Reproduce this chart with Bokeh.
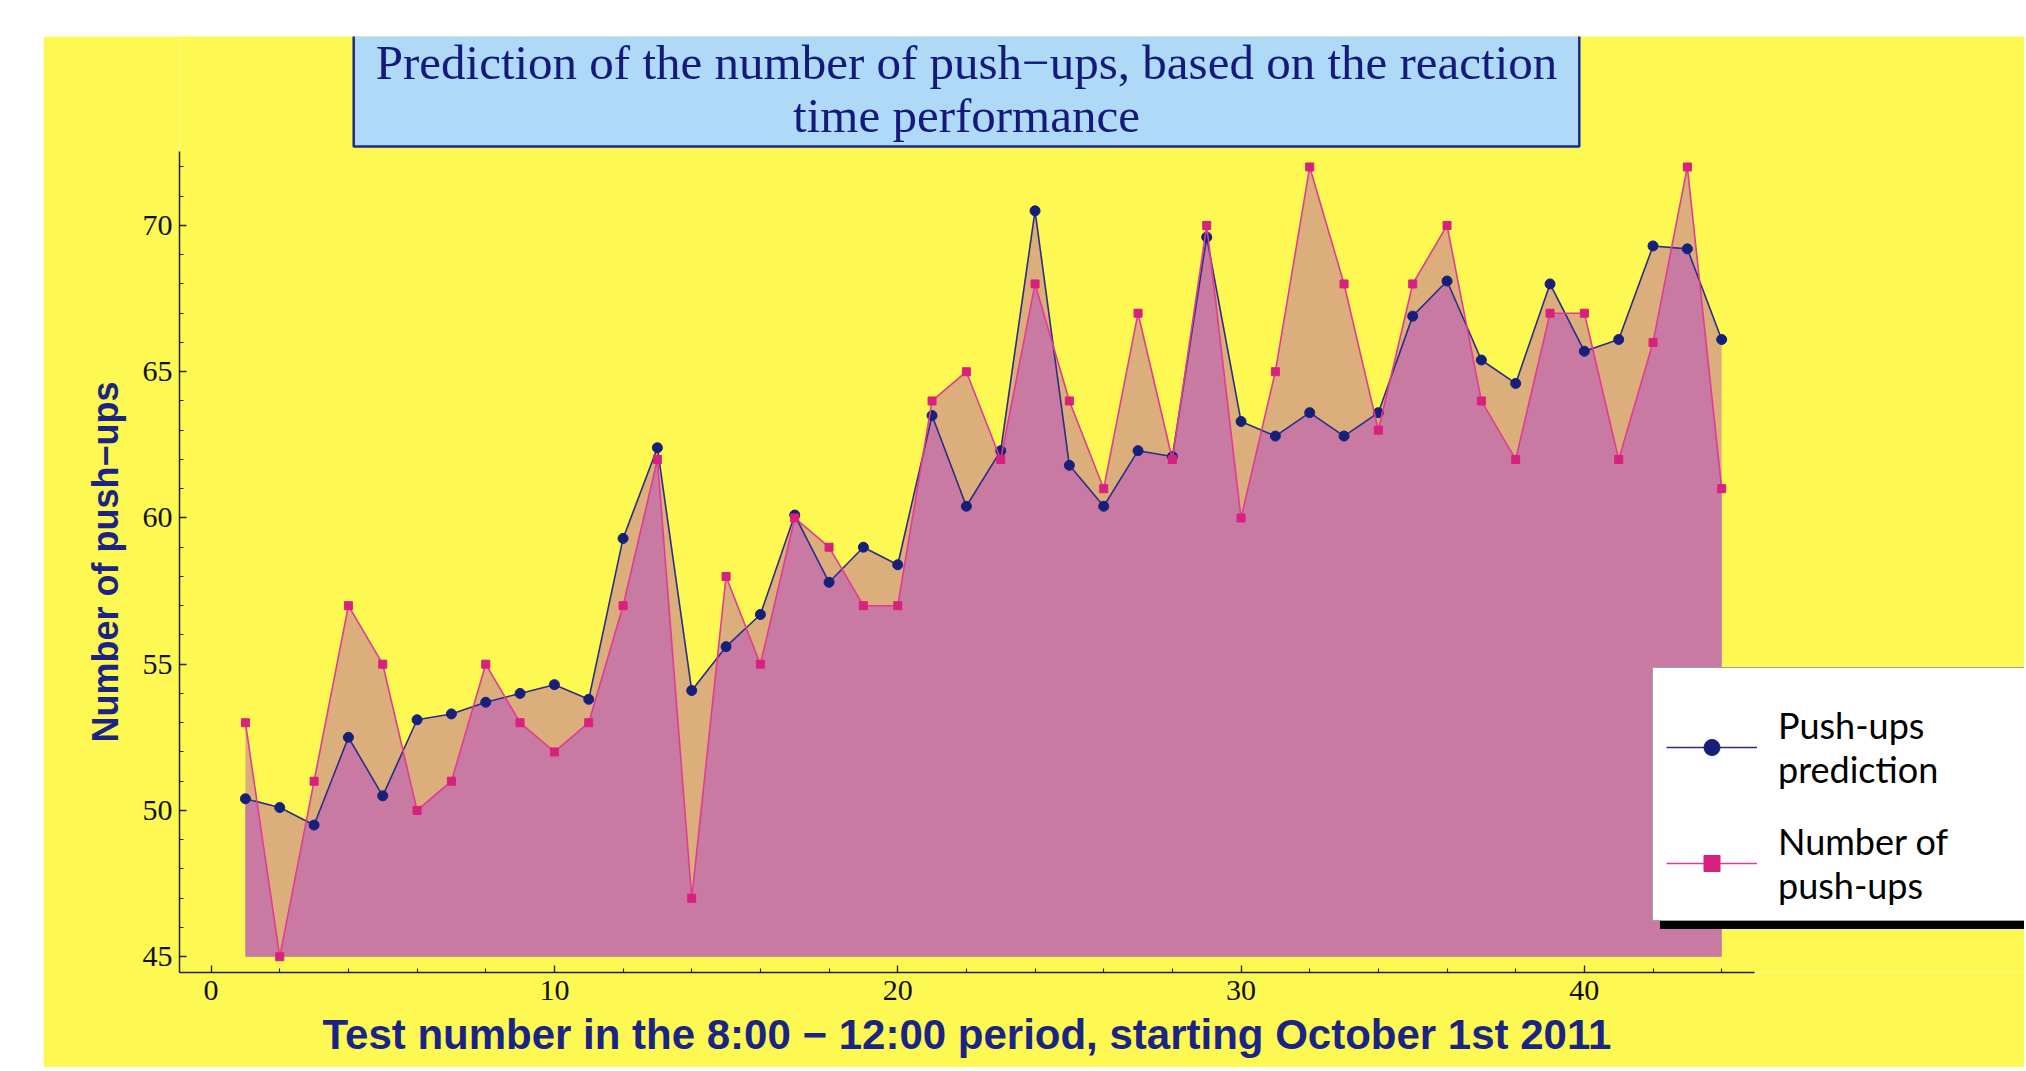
from bokeh.plotting import figure
from bokeh.models import Range1d, SingleIntervalTicker, Legend, LegendItem, Label, Title
from bokeh.embed import file_html
from bokeh.resources import INLINE

# ---------------- data ----------------
tests = list(range(1, 45))
prediction = [50.4, 50.1, 49.5, 52.5, 50.5, 53.1, 53.3, 53.7, 54.0, 54.3, 53.8,
              59.3, 62.4, 54.1, 55.6, 56.7, 60.1, 57.8, 59.0, 58.4, 63.5, 60.4,
              62.3, 70.5, 61.8, 60.4, 62.3, 62.1, 69.6, 63.3, 62.8, 63.6, 62.8,
              63.6, 66.9, 68.1, 65.4, 64.6, 68.0, 65.7, 66.1, 69.3, 69.2, 66.1]
pushups = [53, 45, 51, 57, 55, 50, 51, 55, 53, 52, 53,
           57, 62, 47, 58, 55, 60, 59, 57, 57, 64, 65,
           62, 68, 64, 61, 67, 62, 70, 60, 65, 72, 68,
           63, 68, 70, 64, 62, 67, 67, 62, 66, 72, 61]
fill_base = 45
x_tick_interval = 10
y_tick_interval = 5
x_axis_bounds = (-0.92, 44.97)
y_axis_bounds = (44.46, 72.53)

title_text = "Prediction of the number of push\u2212ups, based on the reaction\ntime performance"
x_label = "Test number in the 8:00 \u2212 12:00 period, starting October 1st 2011"
y_label = "Number of push\u2212ups"
legend_labels = ["Push-ups\nprediction", "Number of\npush-ups"]

# ---------------- colours ----------------
YELLOW = "#FDF852"
TAN = "#DCAE7C"
MAUVE = "#C87AA2"
NAVY = "#16207A"
NAVY_LINE = "#2A2E86"
MAGENTA = "#D8217E"
PINK_LINE = "#E03C94"
LABEL_NAVY = "#1A2485"

# upper / lower envelopes of the two series (with crossing points)
xs, lo, hi = [], [], []
for i in range(len(tests)):
    x0, p0, a0 = tests[i], prediction[i], pushups[i]
    xs.append(x0)
    lo.append(min(p0, a0))
    hi.append(max(p0, a0))
    if i < len(tests) - 1:
        x1, p1, a1 = tests[i + 1], prediction[i + 1], pushups[i + 1]
        d0, d1 = p0 - a0, p1 - a1
        if d0 * d1 < 0:
            t = d0 / (d0 - d1)
            xc = x0 + t * (x1 - x0)
            yc = p0 + t * (p1 - p0)
            xs.append(xc)
            lo.append(yc)
            hi.append(yc)

# the plot frame spans the whole upper-right area so that the title box and
# the legend (which overhang the axes) are drawn; the axes use bounds.
p = figure(frame_width=1845, frame_height=936,
           output_backend="svg", toolbar_location=None,
           x_range=Range1d(-0.92, 52.82), y_range=Range1d(44.46, 76.46),
           min_border_left=136, min_border_right=0, min_border_top=0,
           min_border_bottom=91,
           background_fill_color=YELLOW, border_fill_color=YELLOW,
           outline_line_color=None, margin=(36, 0, 0, 43))
p.grid.visible = False

# fills
p.varea(x=xs, y1=fill_base, y2=hi, fill_color=TAN, fill_alpha=1)
p.varea(x=xs, y1=fill_base, y2=lo, fill_color=MAUVE, fill_alpha=1)

# series
pl = p.line(tests, prediction, line_color=NAVY_LINE, line_width=1.6)
ps = p.scatter(tests, prediction, marker="circle", size=10,
               fill_color=NAVY, line_color=NAVY)
al = p.line(tests, pushups, line_color=PINK_LINE, line_width=1.6)
asq = p.scatter(tests, pushups, marker="square", size=8,
                fill_color=MAGENTA, line_color=MAGENTA)

# axes
for ax in (p.xaxis[0], p.yaxis[0]):
    ax.axis_line_color = "#222222"
    ax.axis_line_width = 1.5
    ax.major_tick_line_color = "#222222"
    ax.minor_tick_line_color = "#222222"
    ax.major_tick_line_width = 1.3
    ax.minor_tick_line_width = 1.1
    ax.major_tick_in = 7
    ax.major_tick_out = 0
    ax.minor_tick_in = 4
    ax.minor_tick_out = 0
    ax.major_label_text_font = "Liberation Serif"
    ax.major_label_text_font_size = "30px"
    ax.major_label_text_color = "#111111"

p.xaxis.ticker = SingleIntervalTicker(interval=x_tick_interval, num_minor_ticks=5)
p.yaxis.ticker = SingleIntervalTicker(interval=y_tick_interval, num_minor_ticks=5)
p.xaxis.bounds = x_axis_bounds
p.yaxis.bounds = y_axis_bounds
p.xaxis.major_label_standoff = 8
p.yaxis.major_label_standoff = 7

# axis titles, placed along the bounded axes
xt = Title(text=x_label, align="left", offset=143, standoff=16,
           vertical_align="top",
           text_font="Liberation Sans", text_font_style="bold",
           text_font_size="42px", text_color=LABEL_NAVY)
p.add_layout(xt, "below")
yt = Title(text=y_label, align="left", offset=230, standoff=24,
           vertical_align="top",
           text_font="Liberation Sans", text_font_style="bold",
           text_font_size="36px", text_color=LABEL_NAVY)
p.add_layout(yt, "left")

# title box (screen units relative to the plot frame's bottom-left)
title = Label(x=787, y=882, x_units="screen", y_units="screen",
              text=title_text, text_align="center", text_baseline="middle",
              text_font="Liberation Serif", text_font_size="49px",
              text_color="#14197A", text_line_height=0.98,
              background_fill_color="#AEDAF7", background_fill_alpha=1,
              border_line_color="#1E2A8C", border_line_width=2.5,
              padding=dict(left=22, right=22, top=0, bottom=3))
p.add_layout(title)

# legend (with shadow); a tiny blank legend title adds the extra top space
def make_legend(loc, labels, bg, border, text_alpha):
    return Legend(
        items=[LegendItem(label=labels[0], renderers=[pl, ps]),
               LegendItem(label=labels[1], renderers=[al, asq])],
        location=loc, orientation="vertical",
        title="\u00a0", title_text_font="Lato", title_text_font_size="8px",
        title_standoff=12,
        label_text_font="Lato", label_text_font_size="36px",
        label_text_color="black", label_text_alpha=text_alpha,
        glyph_width=91, glyph_height=40, label_standoff=21,
        padding=13, spacing=28, label_width=280, margin=0,
        background_fill_color=bg, background_fill_alpha=1,
        border_line_color=border, border_line_width=1.5,
    )

blank = ["\u00a0\n\u00a0", "\u00a0\n\u00a0"]
p.add_layout(make_legend((1481, 43), blank, "black", "black", 0))
p.add_layout(make_legend((1473, 51), legend_labels, "white", "#444444", 1))

open("out.html", "w").write(file_html(p, INLINE))
